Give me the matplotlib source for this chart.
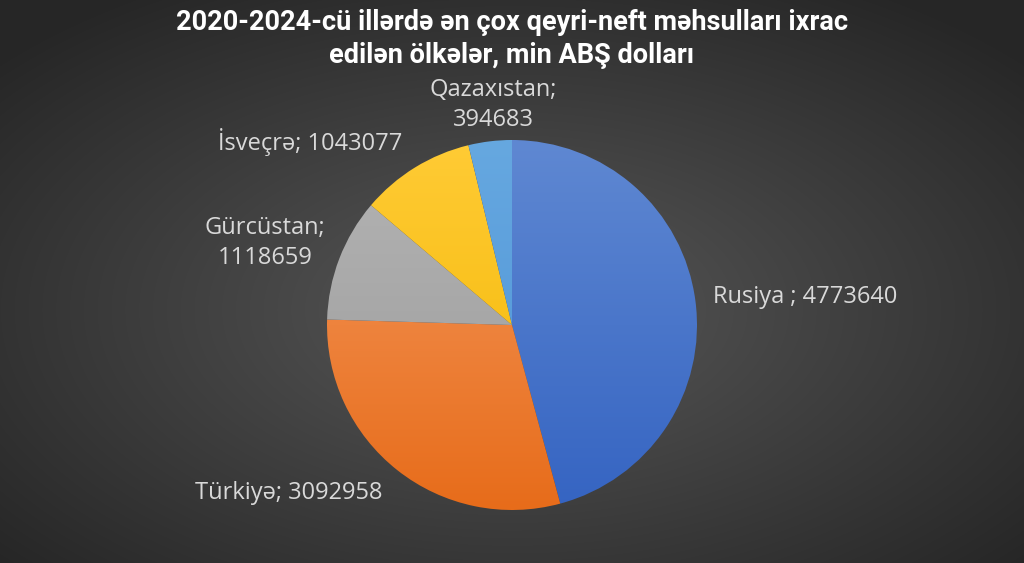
import numpy as np
import matplotlib
matplotlib.use("Agg")
import matplotlib.pyplot as plt
from matplotlib.colors import LinearSegmentedColormap

countries = ["Rusiya", "Türkiyə", "Gürcüstan", "İsveçrə", "Qazaxıstan"]
values = [4773640, 3092958, 1118659, 1043077, 394683]
label_texts = ["Rusiya ; 4773640", "Türkiyə; 3092958", "Gürcüstan;\n1118659",
               "İsveçrə; 1043077", "Qazaxıstan;\n394683"]
title = "2020-2024-cü illərdə ən çox qeyri-neft məhsulları ixrac\nedilən ölkələr, min ABŞ dolları"

grad_top = ["#5F88D2", "#F59A60", "#B4B4B4", "#FFCB35", "#66A8E0"]
grad_bot = ["#3564C2", "#E76C1A", "#9A9A9A", "#F2B600", "#4C92D6"]

W, H = 1024, 563
fig = plt.figure(figsize=(W / 100, H / 100), dpi=100)

# background radial gradient
bg = fig.add_axes([0, 0, 1, 1])
yy, xx = np.mgrid[0:H, 0:W]
r = np.sqrt(((xx - W / 2) / (W / 2)) ** 2 + ((yy - H * 0.55) / (H / 2)) ** 2)
r = np.clip(r / 1.35, 0, 1)
c_in = np.array([0x58, 0x58, 0x58]) / 255
c_out = np.array([0x26, 0x26, 0x26]) / 255
img = c_in[None, None, :] * (1 - r[..., None]) + c_out[None, None, :] * r[..., None]
bg.imshow(img, extent=[0, W, 0, H], origin="upper", aspect="auto")
bg.set_axis_off()

ax = fig.add_axes([0, 0, 1, 1])
ax.set_aspect("equal")
ax.patch.set_alpha(0)

cx, cy, R = 512, H - 325, 185
wedges, _ = ax.pie(values, startangle=90, counterclock=False, center=(cx, cy),
                   radius=R, frame=True,
                   wedgeprops=dict(facecolor="none", edgecolor="none", linewidth=0))

grad = np.linspace(0, 1, 256)[:, None]
for w, ct, cb in zip(wedges, grad_top, grad_bot):
    cmap = LinearSegmentedColormap.from_list("g", [ct, cb])
    im = ax.imshow(grad, cmap=cmap, extent=[cx - R, cx + R, cy - R, cy + R],
                   origin="upper", aspect="auto", zorder=1)
    im.set_clip_path(w)
    w.set_zorder(2)

ax.set_xlim(0, W)
ax.set_ylim(0, H)
ax.set_axis_off()

lab_col = "#D9D9D9"
lfont = dict(family=["Open Sans", "Noto Sans", "DejaVu Sans"], fontsize=17, color=lab_col)
pos = [(713, 297, "left"), (195, 493, "left"), (265, 243, "center"),
       (310, 142, "center"), (493, 105, "center")]
for t, (x, y, ha) in zip(label_texts, pos):
    ax.text(x, H - y, t, ha=ha, va="center", linespacing=1.3, **lfont)

fig.text(0.5, 1 - 39 / H, title, ha="center", va="center", color="white",
         family=["Roboto", "Liberation Sans", "DejaVu Sans"], fontweight="bold",
         fontsize=19.5, linespacing=1.3)

fig.savefig("out.png", dpi=100)
